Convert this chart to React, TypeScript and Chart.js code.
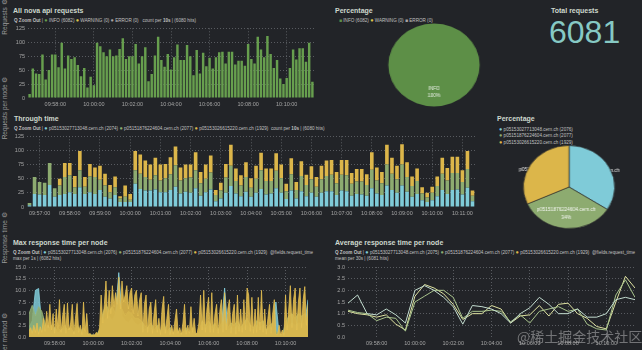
import React, { useEffect, useRef } from "react";
import { Chart, registerables } from "chart.js";

Chart.register(...registerables);

const FONT = "'Liberation Sans', Arial, sans-serif";
const BG = "#222428";
const TICK = "#a4a4a4";
const GRID = "rgba(125,129,135,0.75)";
const TITLE = "#cdd8cd";
const LEG = "#c0c0c0";

const C_INFO = "#679f4e";
const C_INFO_PIE = "#5d8f47";
const C_WARN = "#dcc44a";
const C_ERR = "#a9a2a2";
const C_A = "#7fcbd8";
const C_B = "#8dab70";
const C_C = "#dcb64a";

// ---------- data ----------
const nodeNames = ["p05153027713048.cern.ch", "p05151876224604.cern.ch", "p05153026615220.cern.ch"];
const levelNames = ["INFO", "WARNING", "ERROR"];
const levelCounts = [6082, 0, 0];
const nodePieCounts = [2074, 2077, 1929];
const totalRequests = 6081;

// 10 s buckets starting 09:56:40 (seconds of day)
const REQ_START = 35800;
const REQ_STEP = 10;
const requestTotals = [
  7, 53, 44, 43, 78, 33, 50, 78, 78, 55, 99, 53, 76, 70, 73, 59, 39, 54, 19, 38,
  23, 99, 93, 82, 75, 87, 75, 76, 88, 107, 70, 75, 75, 97, 62, 75, 91, 30, 43, 76,
  110, 68, 56, 79, 51, 73, 96, 68, 68, 95, 75, 41, 86, 44, 81, 57, 72, 53, 73, 82,
  83, 62, 83, 83, 60, 67, 67, 58, 97, 70, 62, 110, 87, 73, 111, 79, 54, 68, 35, 25,
  36, 54, 87, 69, 89, 89, 65, 99, 29,
];
const nodeACounts = [
  3, 23, 22, 21, 39, 18, 21, 23, 26, 23, 35, 23, 26, 23, 30, 18, 15, 21, 9, 9, 9, 41, 32, 29, 29, 31, 26,
  26, 30, 36, 24, 27, 25, 33, 20, 26, 31, 10, 15, 25, 37, 24, 19, 27, 18, 25, 32,
  22, 24, 33, 25, 14, 29, 15, 28, 19, 25, 18, 25, 28, 28, 21, 29, 28, 20, 23, 22,
  20, 33, 24, 21, 38, 30, 25, 38, 27, 18, 23, 12, 9, 12, 19, 30, 23, 30, 31, 22, 34, 10,
];
const nodeBCounts = [
  4, 30, 22, 22, 39, 15, 17, 30, 30, 12, 30, 13, 28, 30, 18, 20, 11, 14, 6, 9, 4, 24, 27, 24, 19, 25, 21,
  25, 28, 38, 23, 24, 27, 32, 22, 24, 30, 11, 14, 27, 36, 22, 19, 26, 16, 25, 33,
  24, 22, 31, 26, 14, 29, 15, 27, 20, 24, 18, 24, 27, 29, 21, 28, 28, 21, 22, 23,
  19, 33, 23, 21, 37, 29, 24, 37, 26, 19, 23, 12, 8, 13, 18, 29, 24, 30, 29, 22, 33, 10,
];
const nodeCCounts = [
  0, 0, 0, 0, 0, 0, 12, 25, 22, 20, 34, 17, 22, 17, 25, 21, 13, 19, 4, 20, 10, 34, 34, 29, 27, 31, 28,
  25, 30, 33, 23, 24, 23, 32, 20, 25, 30, 9, 14, 24, 37, 22, 18, 26, 17, 23, 31,
  22, 22, 31, 24, 13, 28, 14, 26, 18, 23, 17, 24, 27, 26, 20, 26, 27, 19, 22, 22,
  19, 31, 23, 20, 35, 28, 24, 36, 26, 17, 22, 11, 8, 11, 17, 28, 22, 29, 29, 21, 32, 9,
];

// max response time, starting 09:56:40
const MAX_START = 35800;
const MAX_C_STEP = 5;
const MAX_AB_STEP = 10;
const maxNodeC = [
  1.2, 2.0, 0.8, 2.5, 1.0, 3.0, 0.6, 2.2, 1.0, 4.0, 1.2, 5.5, 2.0, 7.0, 1.5, 5.0, 0.8, 6.0, 2.0, 8.0,
  1.0, 4.5, 7.0, 0.8, 7.3, 1.5, 3.0, 7.0, 0.6, 4.0, 7.2, 1.0, 2.5, 0.5, 7.5, 1.2, 5.0, 0.4, 0.8, 0.3,
  0.5, 0.4, 1.0, 0.5, 2.0, 9.0, 3.0, 7.0, 12.0, 4.0, 10.0, 5.0, 11.0, 6.5, 9.5, 7.0, 12.8, 6.0, 12.0, 7.5,
  9.0, 11.0, 6.0, 9.5, 10.5, 5.0, 9.0, 10.0, 4.5, 8.0, 9.5, 1.0, 7.0, 9.0, 1.0, 6.0, 7.5, 0.8, 5.0, 8.0,
  1.0, 4.0, 0.5, 6.0, 8.7, 0.8, 4.0, 7.0, 0.5, 2.5, 0.6, 3.5, 6.0, 0.8, 2.0, 0.5, 3.0, 7.0, 0.6, 2.5,
  0.8, 6.5, 1.0, 4.0, 0.5, 1.0, 3.0, 9.0, 1.5, 10.0, 1.0, 6.0, 8.5, 1.0, 9.5, 1.0, 5.0, 7.0, 0.8, 5.5,
  8.0, 1.0, 9.5, 1.5, 6.0, 8.0, 0.8, 5.0, 7.0, 0.6, 9.0, 1.2, 6.0, 1.0, 8.0, 1.5, 10.5, 9.0, 1.2, 8.5,
  0.8, 6.0, 1.0, 8.5, 1.5, 10.0, 1.0, 6.0, 0.6, 4.0, 7.0, 0.8, 5.0, 8.0, 0.6, 0.5, 2.5, 0.4, 1.5, 0.3,
  9.0, 1.5, 6.0, 11.0, 2.0, 8.0, 10.5, 1.5, 7.5, 10.5, 2.0, 8.0, 10.8, 2.5, 7.0,
];
const maxNodeB = [
  5.0, 6.8, 4.5, 6.5, 5.5,
  3.0, 1.5, 2.5, 1.0, 2.0, 1.2, 2.5, 1.5, 2.0, 0.8, 2.5, 1.2, 2.0, 0.8, 0.5, 0.4, 0.5, 1.5,
  5.0, 7.0, 5.5, 6.5, 5.0, 7.0, 6.0, 4.5, 5.5, 5.0, 4.0,
  4.0, 3.5, 2.5, 2.0, 3.0, 1.5, 2.5, 1.2, 3.0, 1.2, 2.0, 0.8, 2.0, 0.6, 1.0, 2.0, 0.8, 2.0, 0.5, 1.0,
  3.5, 2.5, 3.5, 2.0, 3.0, 1.5, 3.0, 3.5, 2.0, 3.0, 2.5, 3.5, 2.0, 3.0, 4.0, 2.5, 2.0, 3.5, 3.0, 3.5, 1.5, 2.5, 3.0, 1.2, 0.6, 0.5,
  3.0, 4.5, 5.0, 4.0, 5.0, 4.5, 5.0, 3.5,
];
const maxNodeA = [
  2.0, 3.5, 10.0, 10.4, 2.5,
  1.5, 2.5, 1.0, 2.0, 0.8, 1.5, 2.0, 1.0, 2.0, 0.8, 1.5, 0.8, 1.2, 0.5, 0.4, 0.3, 0.4, 1.0,
  3.0, 4.0, 4.5, 3.5, 5.0, 13.8, 4.5, 3.5, 3.0, 4.0, 3.0,
  2.5, 3.0, 1.5, 2.0, 2.0, 1.2, 1.5, 1.0, 2.0, 1.0, 1.5, 0.8, 1.2, 0.5, 1.0, 1.5, 0.6, 1.2, 0.5, 0.8,
  2.0, 1.8, 2.5, 1.5, 2.0, 1.2, 2.0, 10.5, 1.5, 2.0, 1.8, 2.5, 1.5, 2.0, 2.5, 1.8, 1.5, 2.5, 2.0, 2.5, 1.5, 2.0, 2.0, 7.5, 0.5, 0.4,
  2.0, 2.5, 3.0, 2.5, 3.0, 2.8, 3.0, 8.0,
];

// mean response time per 30 s, starting 09:56:30
const AVG_START = 35790;
const AVG_STEP = 30;
const avgNodeA = [1.45, 1.8, 1.0, 0.95, 1.2, 0.95, 0.6, 2.0, 2.2, 2.0, 1.7, 1.3, 0.55, 1.35, 1.3, 1.2, 1.0, 0.6, 1.0, 1.25, 1.7, 1.4, 1.0, 1.0, 1.2, 0.85, 0.85, 1.0, 1.6, 1.7, 1.6];
const avgNodeB = [1.15, 1.05, 1.0, 0.7, 0.85, 0.8, 0.25, 1.5, 1.75, 2.0, 2.0, 1.7, 0.8, 1.1, 1.1, 1.15, 1.1, 0.65, 0.95, 0.6, 1.1, 1.2, 1.3, 1.1, 1.2, 0.55, 0.35, 0.3, 1.8, 2.45, 1.7];
const avgNodeC = [1.1, 1.0, 0.95, 0.85, 0.95, 0.55, 0.3, 1.75, 2.25, 2.1, 1.85, 1.4, 0.75, 1.0, 1.0, 1.35, 1.2, 0.6, 0.9, 0.95, 1.35, 0.9, 1.4, 1.45, 1.0, 0.8, 0.45, 0.35, 1.5, 2.6, 2.1];

// axis windows (seconds of day)
const WIN_A = [35795, 36685];
const WIN_MAX = [35800, 36670];
const WIN_AVG = [35790, 36690];

// ---------- helpers ----------
const pad2 = (n: number) => String(n).padStart(2, "0");
const fmtTime = (v: number) => {
  const s = Math.round(v);
  return `${pad2(Math.floor(s / 3600))}:${pad2(Math.floor((s % 3600) / 60))}:${pad2(s % 60)}`;
};
const series = (vals: number[], start: number, step: number) => vals.map((v, i) => ({ x: start + i * step, y: v }));

const tickFont = { family: FONT, size: 5.5 };

function timeAxis(win: number[], step: number, stacked = false) {
  return {
    type: "linear",
    min: win[0],
    max: win[1],
    offset: false,
    stacked,
    grid: { color: GRID, lineWidth: 0.8, drawTicks: false, offset: false },
    border: { display: false, dash: [1, 2] },
    ticks: {
      stepSize: step,
      includeBounds: false,
      autoSkip: false,
      maxRotation: 0,
      color: TICK,
      font: tickFont,
      padding: 3,
      callback: (v: any) => fmtTime(Number(v)),
    },
    afterFit: (s: any) => {
      s.height = 10;
    },
  };
}
function valueAxis(max: number, step: number, dec: number, stacked = false) {
  return {
    min: 0,
    max,
    stacked,
    grid: {
      color: (c: any) => (c.tick && c.tick.value === 0 ? "rgba(0,0,0,0)" : GRID),
      lineWidth: 0.8,
      drawTicks: false,
    },
    border: { display: false, dash: [1, 2] },
    ticks: { stepSize: step, color: TICK, font: tickFont, padding: 3, callback: (v: any) => Number(v).toFixed(dec) },
    afterFit: (s: any) => {
      s.width = 18;
    },
  };
}
const baseOpts = (padding: any) => ({
  animation: false,
  responsive: false,
  events: [],
  layout: { padding },
  plugins: { legend: { display: false }, tooltip: { enabled: false } },
});

// ---------- components ----------
function ChartCanvas({ x, y, w, h, make, style }: any) {
  const ref = useRef<HTMLCanvasElement>(null);
  useEffect(() => {
    const chart = new Chart(ref.current as HTMLCanvasElement, make());
    return () => chart.destroy();
  }, []);
  return (
    <canvas
      ref={ref}
      width={w}
      height={h}
      style={{ position: "absolute", left: x, top: y, width: w, height: h, ...(style || {}) }}
    />
  );
}

function Txt({ x, y, size, color, bold, children, style }: any) {
  return (
    <div
      style={{
        position: "absolute",
        left: x,
        top: y - size / 2,
        fontSize: size,
        lineHeight: 1,
        whiteSpace: "nowrap",
        color,
        fontFamily: FONT,
        fontWeight: bold ? 700 : 400,
        ...(style || {}),
      }}
    >
      {children}
    </div>
  );
}

function Side({ y, children }: any) {
  return (
    <div
      style={{
        position: "absolute",
        left: 5,
        top: y,
        transform: "translate(-50%,-50%) rotate(-90deg)",
        fontSize: 6.5,
        lineHeight: 1,
        whiteSpace: "nowrap",
        color: "#9a9a9a",
        fontFamily: FONT,
      }}
    >
      {children}
    </div>
  );
}

function Legend({ x, y, items, tail }: any) {
  return (
    <Txt x={x} y={y} size={4.6} color={LEG}>
      <b>Q Zoom Out</b> |{" "}
      {items.map((it: any, i: number) => (
        <span key={i}>
          <span style={{ color: it.color, fontSize: 5.5 }}>●</span> {it.label}{" "}
        </span>
      ))}
      {tail}
    </Txt>
  );
}

const nodeColors = [C_A, C_B, C_C];

export default function App() {
  const makeReq = () => ({
    type: "bar",
    data: {
      datasets: [
        {
          data: series(requestTotals, REQ_START, REQ_STEP),
          backgroundColor: C_INFO,
          barPercentage: 0.76,
          categoryPercentage: 1,
        },
      ],
    },
    options: {
      ...baseOpts({ top: 6, right: 2, bottom: 4, left: 0 }),
      scales: { x: timeAxis(WIN_A, 120), y: valueAxis(125, 25, 0) },
    },
  });

  const makeThrough = () => ({
    type: "bar",
    data: {
      datasets: [nodeACounts, nodeBCounts, nodeCCounts].map((arr, i) => ({
        data: series(arr, REQ_START, REQ_STEP),
        backgroundColor: nodeColors[i],
        barPercentage: 0.72,
        categoryPercentage: 1,
      })),
    },
    options: {
      ...baseOpts({ top: 6, right: 4, bottom: 0, left: 0 }),
      scales: { x: timeAxis(WIN_A, 60, true), y: valueAxis(125, 25, 0, true) },
    },
  });

  const makeMax = () => ({
    type: "line",
    data: {
      datasets: [
        { data: series(maxNodeC, MAX_START, MAX_C_STEP), borderColor: "#e3bf52", backgroundColor: "rgba(220,182,74,0.92)", order: 0 },
        { data: series(maxNodeB, MAX_START, MAX_AB_STEP), borderColor: "#97b67a", backgroundColor: "rgba(141,171,112,0.85)", order: 1 },
        { data: series(maxNodeA, MAX_START, MAX_AB_STEP), borderColor: "#86d2df", backgroundColor: "rgba(127,203,216,0.85)", order: 2 },
      ].map((d) => ({ ...d, fill: "origin", pointRadius: 0, borderWidth: 0.8, tension: 0 })),
    },
    options: {
      ...baseOpts({ top: 7, right: 3, bottom: 0, left: 0 }),
      scales: { x: timeAxis(WIN_MAX, 120), y: valueAxis(15, 2.5, 1) },
    },
  });

  const makeAvg = () => ({
    type: "line",
    data: {
      datasets: [
        { data: series(avgNodeA, AVG_START, AVG_STEP), borderColor: "#c3ddd0" },
        { data: series(avgNodeB, AVG_START, AVG_STEP), borderColor: "#a9c58d" },
        { data: series(avgNodeC, AVG_START, AVG_STEP), borderColor: "#dfe3a2" },
      ].map((d) => ({ ...d, fill: false, pointRadius: 0, borderWidth: 1, tension: 0 })),
    },
    options: {
      ...baseOpts({ top: 7, right: 2, bottom: 0, left: 0 }),
      scales: { x: timeAxis(WIN_AVG, 120), y: valueAxis(3, 0.5, 1) },
    },
  });

  const makePie1 = () => ({
    type: "pie",
    data: {
      labels: levelNames,
      datasets: [{ data: levelCounts, backgroundColor: [C_INFO_PIE, C_WARN, C_ERR], borderWidth: 0 }],
    },
    options: { ...baseOpts(0), radius: 41.5 },
    plugins: [
      {
        id: "pie1labels",
        afterDatasetsDraw(chart: any) {
          const arc = chart.getDatasetMeta(0).data[0];
          const ctx = chart.ctx;
          ctx.save();
          ctx.fillStyle = "rgba(255,255,255,0.85)";
          ctx.font = `4.5px ${FONT}`;
          ctx.textAlign = "center";
          ctx.textBaseline = "middle";
          ctx.fillText(levelNames[0], arc.x, arc.y + 24);
          ctx.fillText("100%", arc.x, arc.y + 31);
          ctx.restore();
        },
      },
    ],
  });

  const makePie2 = () => ({
    type: "pie",
    data: {
      labels: nodeNames,
      datasets: [{ data: nodePieCounts, backgroundColor: nodeColors, borderWidth: 0.7, borderColor: "rgba(45,45,45,0.9)" }],
    },
    options: { ...baseOpts(0), radius: 41.5 },
    plugins: [
      {
        id: "pie2labels",
        beforeDatasetsDraw(chart: any) {
          const a = chart.getDatasetMeta(0).data[0];
          const ctx = chart.ctx;
          ctx.save();
          ctx.fillStyle = "rgba(255,255,255,0.9)";
          ctx.font = `4.5px ${FONT}`;
          ctx.textBaseline = "middle";
          ctx.textAlign = "right";
          ctx.fillText(nodeNames[0], a.x + 46, a.y - 16);
          ctx.textAlign = "left";
          ctx.fillText(nodeNames[2], a.x - 45.5, a.y - 17);
          ctx.restore();
        },
        afterDatasetsDraw(chart: any) {
          const a = chart.getDatasetMeta(0).data[0];
          const ctx = chart.ctx;
          ctx.save();
          ctx.fillStyle = "rgba(255,255,255,0.9)";
          ctx.font = `4.5px ${FONT}`;
          ctx.textBaseline = "middle";
          ctx.textAlign = "center";
          ctx.fillText(nodeNames[1], a.x - 2.5, a.y + 23);
          ctx.fillText("34%", a.x - 2.5, a.y + 31);
          ctx.restore();
        },
      },
    ],
  });

  const nodeLegend = (counts: number[]) => nodeNames.map((n, i) => ({ color: nodeColors[i], label: `${n} (${counts[i]})` }));

  return (
    <div style={{ position: "absolute", left: 0, top: 0, width: 642, height: 350, background: BG, overflow: "hidden" }}>
      <Side y={17}>Requests ⚙</Side>
      <Side y={108}>Requests per node ⚙</Side>
      <Side y={238}>Response time ⚙</Side>
      <Side y={348}>Requests per method ⚙</Side>

      {/* Row 1 */}
      <Txt x={13} y={10} size={7} color={TITLE} bold>All nova api requests</Txt>
      <Txt x={14} y={20} size={4.6} color={LEG}>
        <b>Q Zoom Out</b> | <span style={{ color: C_INFO, fontSize: 5.5 }}>●</span> INFO (6082){" "}
        <span style={{ color: C_WARN, fontSize: 5.5 }}>●</span> WARNING (0){" "}
        <span style={{ color: C_ERR, fontSize: 5.5 }}>●</span> ERROR (0)&nbsp;&nbsp; count per <b>10s</b> | (6080 hits)
      </Txt>
      <ChartCanvas x={10} y={22} w={306} h={90} make={makeReq} />

      <Txt x={335} y={10} size={7} color={TITLE} bold>Percentage</Txt>
      <Txt x={339} y={20} size={4.6} color={LEG}>
        <span style={{ color: C_INFO_PIE, fontSize: 5 }}>■</span> INFO (6082){" "}
        <span style={{ color: C_WARN, fontSize: 5.5 }}>●</span> WARNING (0){" "}
        <span style={{ color: C_ERR, fontSize: 5 }}>■</span> ERROR (0)
      </Txt>
      <ChartCanvas x={392} y={23} w={84} h={84} make={makePie1} style={{ transform: "scaleX(1.1)" }} />

      <Txt x={551} y={10} size={7} color={TITLE} bold>Total requests</Txt>
      <Txt x={549} y={32} size={32} color="#86c9c4">{totalRequests}</Txt>

      {/* Row 2 */}
      <Txt x={14} y={118} size={7} color={TITLE} bold>Through time</Txt>
      <Legend x={14} y={128} items={nodeLegend([2074, 2077, 1929])} tail={<span>&nbsp;count per <b>10s</b> | (6080 hits)</span>} />
      <ChartCanvas x={9} y={130} w={470} h={87} make={makeThrough} />

      <Txt x={497} y={118} size={7} color={TITLE} bold>Percentage</Txt>
      {nodeNames.map((n, i) => (
        <Txt key={n} x={499} y={129 + i * 6.5} size={4.6} color={LEG}>
          <span style={{ color: nodeColors[i], fontSize: 5.5 }}>●</span> {n} ({[2076, 2077, 1929][i]})
        </Txt>
      ))}
      <ChartCanvas x={509} y={140} w={120} h={94} make={makePie2} style={{ transform: "scaleX(1.1)" }} />

      {/* Row 3 */}
      <Txt x={13} y={242} size={7} color={TITLE} bold>Max response time per node</Txt>
      <Legend x={13} y={252} items={nodeLegend([2076, 2077, 1929])} tail={<span>&nbsp;@fields.request_time</span>} />
      <Txt x={13} y={259} size={4.6} color={LEG}>max per 1s | (6082 hits)</Txt>
      <ChartCanvas x={11} y={260} w={300} h={87} make={makeMax} />

      <Txt x={335} y={242} size={7} color={TITLE} bold>Average response time per node</Txt>
      <Legend x={335} y={252} items={nodeLegend([2075, 2077, 1929])} tail={<span>&nbsp;@fields.request_time</span>} />
      <Txt x={335} y={259} size={4.6} color={LEG}>mean per 30s | (6081 hits)</Txt>
      <ChartCanvas x={330} y={260} w={307} h={87} make={makeAvg} />

      <Txt x={517} y={336} size={14} color="rgba(215,215,215,0.45)" style={{ fontFamily: "'Noto Sans CJK SC', sans-serif" }}>
        @稀土掘金技术社区
      </Txt>
    </div>
  );
}
